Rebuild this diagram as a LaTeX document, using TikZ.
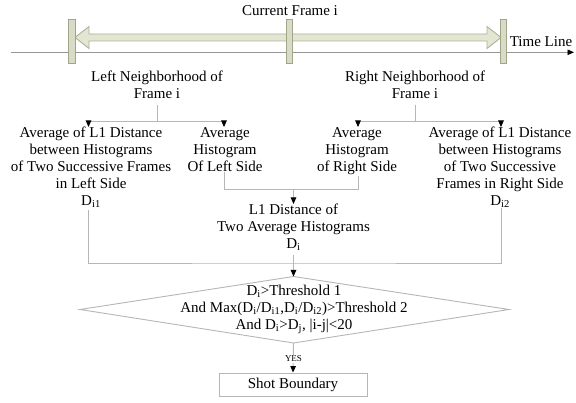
\documentclass[tikz,border=0pt]{standalone}
\usepackage{fontspec}
\setmainfont{Liberation Serif}
\usetikzlibrary{arrows.meta,calc}
\definecolor{lineg}{RGB}{182,182,182}
\definecolor{tlg}{RGB}{150,150,150}
\definecolor{arrfill}{RGB}{226,230,210}
\definecolor{arrdraw}{RGB}{172,178,150}
\definecolor{barfill}{RGB}{216,220,198}
\definecolor{bardraw}{RGB}{160,166,138}
\begin{document}
\begin{tikzpicture}[x=1pt,y=-1pt,
  txt/.style={font=\fontsize{15}{17}\selectfont,align=center,inner sep=0pt},
  conn/.style={draw=lineg,line width=0.9pt},
  arr/.style={-{Triangle[width=5.5pt,length=6.5pt,color=black]}},
  bar/.style={draw=bardraw,fill=barfill,line width=0.8pt}]
\useasboundingbox (0,0) rectangle (576,403);
% time line
\coordinate (tl0) at (11,52.3);
\coordinate (tl1) at (574,52.3);
\draw[draw=tlg,line width=0.8pt,-{Triangle[width=5.5pt,length=6.5pt,color=black]}] (tl0) -- (tl1);
% double block arrow
\draw[draw=arrdraw,fill=arrfill,line width=0.9pt]
  (75,37.5) -- (89,26.5) -- (89,34) -- (487,34) -- (487,26.5) -- (501,37.5)
  -- (487,48.5) -- (487,41) -- (89,41) -- (89,48.5) -- cycle;
% bars
\draw[bar] (68,19) rectangle (75,63);
\draw[bar] (286,19) rectangle (292,63);
\draw[bar] (500.5,19) rectangle (506.5,63);
\node[txt] (cur) at (290,11) {Current Frame i};
\node[txt] (tline) at (541,42) {Time Line};
% neighborhoods
\node[txt] (leftN) at (157,84.5) {Left Neighborhood of\\Frame i};
\node[txt] (rightN) at (415,84.5) {Right Neighborhood of\\Frame i};
\coordinate (lj) at (157,121);
\coordinate (rj) at (415,121);
\coordinate (x1) at (88.5,0);
\coordinate (x2) at (224,0);
\coordinate (x3) at (358,0);
\coordinate (x4) at (501,0);
% top row
\node[txt,anchor=north] (c1) at (91,127) {Average of L1 Distance\\between Histograms\\of Two Successive Frames\\in Left Side\\D\textsubscript{i1}};
\node[txt,anchor=north] (c2) at (225,127) {Average\\Histogram\\Of Left Side};
\node[txt,anchor=north] (c3) at (357,127) {Average\\Histogram\\of Right Side};
\node[txt,anchor=north] (c4) at (500,127) {Average of L1 Distance\\between Histograms\\of Two Successive\\Frames in Right Side\\D\textsubscript{i2}};
\draw[conn,shorten <=6pt] (leftN.south) -- (lj);
\draw[conn,shorten <=6pt] (rightN.south) -- (rj);
\draw[conn,arr] (lj) -| (c1.north -| x1);
\draw[conn,arr] (lj) -| (c2.north -| x2);
\draw[conn,arr] (rj) -| (c3.north -| x3);
\draw[conn,arr] (rj) -| (c4.north -| x4);
% middle
\node[txt,anchor=north] (L1) at (293.5,204) {L1 Distance of\\Two Average Histograms\\D\textsubscript{i}};
\coordinate (jm) at (293.5,189.5);
\draw[conn,shorten <=1pt] (c3.south -| x3) |- (jm);
\draw[conn,arr,shorten <=1pt] (c2.south -| x2) |- (jm) -- (L1.north);
% diamond
\coordinate (dl) at (80,309.5);
\coordinate (dt) at (293.5,276.5);
\coordinate (dr) at (509,309.5);
\coordinate (db) at (293.5,343);
\draw[conn] (dl) -- (dt) -- (dr) -- (db) -- cycle;
\coordinate (jb) at (293.5,263);
\draw[conn,shorten <=2pt] (c1.south -| x1) |- (jb) -| (c4.south -| x4);
\draw[conn,arr,shorten <=4pt] (L1.south) -- (dt);
\node[txt] (cond) at (294,309.5) {D\textsubscript{i}>Threshold 1\\And Max(D\textsubscript{i}/D\textsubscript{i1},D\textsubscript{i}/D\textsubscript{i2})>Threshold 2\\And D\textsubscript{i}>D\textsubscript{j}, |i-j|<20};
% result
\node[txt,draw=lineg,line width=0.9pt,minimum width=148pt,minimum height=23pt] (shot) at (293,384.5) {Shot Boundary};
\draw[conn,arr] (db) -- (shot.north);
\node[font=\fontsize{9}{10}\selectfont,fill=white,inner sep=1pt] (yes) at (293.5,359) {YES};
\end{tikzpicture}
\end{document}
